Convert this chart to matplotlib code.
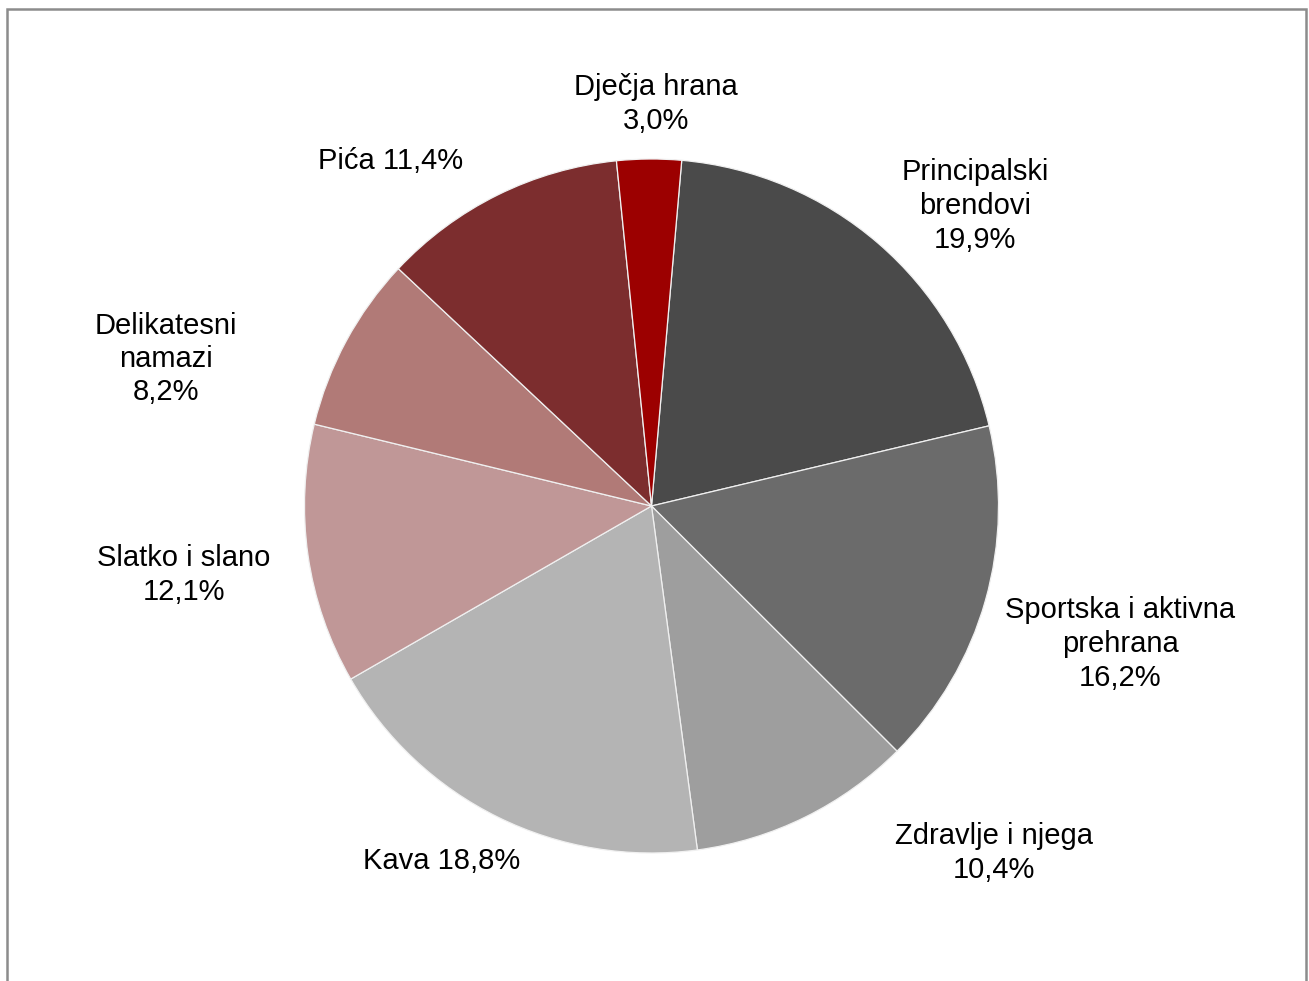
import matplotlib
matplotlib.use("Agg")
import matplotlib.pyplot as plt
from matplotlib.patches import Rectangle

plt.rcParams['font.family'] = ['Liberation Sans', 'DejaVu Sans']

categories = ["Principalski\nbrendovi", "Sportska i aktivna\nprehrana", "Zdravlje i njega",
              "Kava", "Slatko i slano", "Delikatesni\nnamazi", "Pića", "Dječja hrana"]
values = [19.9, 16.2, 10.4, 18.8, 12.1, 8.2, 11.4, 3.0]
colors = ["#4a4a4a", "#6b6b6b", "#9e9e9e", "#b4b4b4", "#c09797", "#b17a77", "#7c2d2e", "#9c0000"]
# label separators: newline or space before the percentage
seps = ["\n", "\n", "\n", " ", "\n", "\n", " ", "\n"]
# label positions in pixel coordinates (x, y from top)
label_pos = [(975, 206), (1120, 644), (994, 853), (442, 861), (184, 575), (166, 359), (391, 161), (656, 104)]

W, H = 1309, 981
fig = plt.figure(figsize=(W / 100, H / 100), dpi=100)
ax = fig.add_axes([0, 0, 1, 1])
ax.set_xlim(0, W)
ax.set_ylim(0, H)
ax.set_aspect('equal')
ax.axis('off')

cx, cy, r = 651.5, H - 506, 347
ax.pie(values, colors=colors, startangle=85, counterclock=False,
       center=(cx, cy), radius=r, frame=True,
       wedgeprops=dict(edgecolor='#f0f0f0', linewidth=0.9))
ax.set_xlim(0, W)
ax.set_ylim(0, H)
ax.axis('off')

for cat, v, sep, (x, y) in zip(categories, values, seps, label_pos):
    txt = f"{cat}{sep}{v:.1f}%".replace('.', ',')
    ax.text(x, H - y, txt, ha='center', va='center', fontsize=21, color='black',
            multialignment='center', linespacing=1.25)

# outer border
fig.patches.append(Rectangle((7 / W, -0.05), (1306 - 7) / W, (H - 9) / H + 0.05,
                             transform=fig.transFigure, fill=False, edgecolor='#8c8c8c',
                             linewidth=1.8))

fig.savefig("out.png", dpi=100)
